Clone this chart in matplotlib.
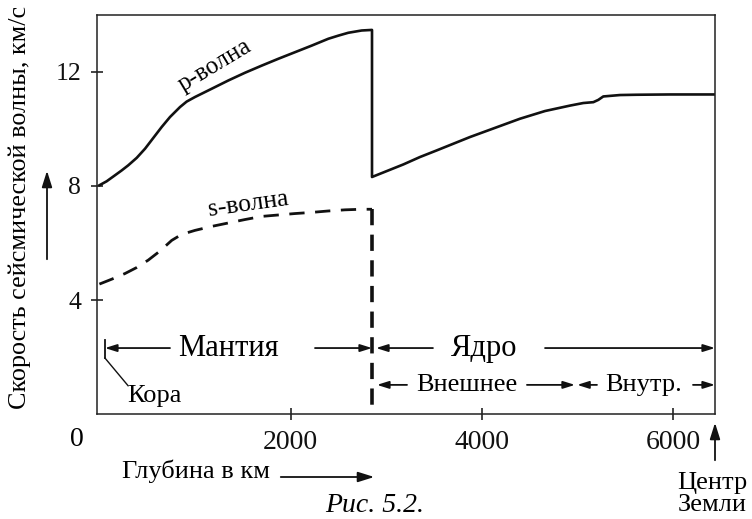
import matplotlib
matplotlib.use("Agg")
import matplotlib.pyplot as plt
from matplotlib.patches import FancyArrowPatch

plt.rcParams['font.family'] = ['Liberation Serif', 'DejaVu Serif']

# ---- data (depth km, velocity km/s) ----
p_mantle_depth = [0, 76, 163, 233, 302, 390, 477, 564, 651, 738, 843, 912, 999, 1174, 1348,
                  1522, 1697, 1871, 2045, 2219, 2393, 2498, 2602, 2742, 2850]
p_mantle_vel = [8.02, 8.16, 8.37, 8.54, 8.72, 8.98, 9.30, 9.68, 10.06, 10.41, 10.76, 10.95,
                11.11, 11.40, 11.69, 11.96, 12.21, 12.45, 12.68, 12.91, 13.15, 13.26, 13.36,
                13.44, 13.46]
p_core_depth = [2850, 3178, 3352, 3526, 3875, 4136, 4397, 4659, 4920, 5059, 5164, 5216, 5268,
                5443, 5617, 5966, 6436]
p_core_vel = [8.31, 8.75, 9.01, 9.24, 9.71, 10.03, 10.35, 10.62, 10.81, 10.90, 10.93, 11.01,
              11.13, 11.18, 11.19, 11.2, 11.2]
s_depth = [0, 128, 268, 390, 511, 634, 756, 860, 999, 1174, 1348, 1522, 1697, 1871, 2045,
           2219, 2393, 2568, 2742, 2850]
s_vel = [4.56, 4.73, 4.93, 5.14, 5.40, 5.72, 6.09, 6.30, 6.44, 6.58, 6.70, 6.82, 6.93, 6.98,
         7.03, 7.07, 7.12, 7.16, 7.18, 7.18]

x_ticks = [2000, 4000, 6000]
y_ticks = [4, 8, 12]

W, H = 752, 519
fig = plt.figure(figsize=(W / 100, H / 100), dpi=100)
ax = fig.add_axes([97.3 / W, 1 - 414.3 / H, (715 - 97.3) / W, (414.3 - 14.5) / H])
ax.set_xlim(-22, 6436)
ax.set_ylim(0, 14)

ink = '#111111'
ax.plot(p_mantle_depth + p_core_depth, p_mantle_vel + p_core_vel,
        color=ink, lw=1.9, solid_joinstyle='round')
ax.plot(s_depth, s_vel, color=ink, lw=2.0, linestyle=(0, (5.5, 3.8)))
ax.plot([s_depth[-1], s_depth[-1]], [s_vel[-1], 0], color=ink, lw=2.6,
        linestyle=(0, (4.5, 2.6)))

for s in ax.spines.values():
    s.set_linewidth(1.1)
    s.set_color('#222222')
ax.set_xticks(x_ticks)
ax.set_yticks(y_ticks)
ax.set_xticklabels([str(v) for v in x_ticks])
ax.set_yticklabels([str(v) for v in y_ticks])
ax.tick_params(direction='inout', length=9, width=1.1, colors=ink)
ax.tick_params(axis='x', pad=7, labelsize=20)
ax.tick_params(axis='y', pad=7, labelsize=18.5)


def fp(x, y):
    return (x / W, 1 - y / H)


# curve labels
fig.text(*fp(215, 66), 'p-волна', fontsize=18, rotation=31, ha='center', va='center')
fig.text(*fp(248, 204), 's-волна', fontsize=18.5, rotation=8, ha='center', va='center')

# region arrows
ap = dict(arrowstyle='-|>,head_length=0.7,head_width=0.22', color=ink, lw=1.3,
          shrinkA=0, shrinkB=0)
row1, row2 = 2.32, 1.03


def arr(x0, x1, y):
    ax.annotate('', xy=(x1, y), xytext=(x0, y), arrowprops=ap, annotation_clip=False)


arr(738, 58, row1)
arr(2254, 2850, row1)
ax.text(1344, row1, 'Мантия', fontsize=22, ha='center', va='center')
arr(3487, 2892, row1)
arr(4659, 6436, row1)
ax.text(4020, row1, 'Ядро', fontsize=22, ha='center', va='center')
arr(3216, 2902, row2)
arr(4470, 4972, row2)
ax.text(3843, row2, 'Внешнее', fontsize=19, ha='center', va='center')
arr(5202, 4995, row2)
arr(6206, 6436, row2)
ax.text(5694, row2, 'Внутр.', fontsize=19, ha='center', va='center')

# crust marker
ax.plot([58, 58], [1.97, 2.6], color=ink, lw=1.3)
ax.plot([58, 300], [1.97, 1.0], color=ink, lw=1.0)
ax.text(290, 0.64, 'Кора', fontsize=19, ha='left', va='center')

# outside texts
fig.text(*fp(77, 440), '0', fontsize=20, ha='center', va='center')
fig.text(*fp(20, 207), 'Скорость сейсмической волны, км/с', fontsize=18.8, rotation=90,
         ha='center', va='center')
fig.text(*fp(196, 471), 'Глубина в км', fontsize=19, ha='center', va='center')
fig.text(*fp(375, 505), 'Рис. 5.2.', fontsize=20, ha='center', va='center', style='italic')
fig.text(*fp(712, 483), 'Центр', fontsize=19, ha='center', va='center')
fig.text(*fp(712, 505), 'Земли', fontsize=19, ha='center', va='center')

fap = dict(arrowstyle='-|>,head_length=0.7,head_width=0.22', color=ink, lw=1.3)
for a, b in [((278, 477), (377, 477)), ((47, 262), (47, 168)), ((715, 463), (715, 420))]:
    fig.add_artist(FancyArrowPatch(fp(*a), fp(*b), transform=fig.transFigure,
                                   mutation_scale=14, **fap))

fig.savefig('out.png', dpi=100)
